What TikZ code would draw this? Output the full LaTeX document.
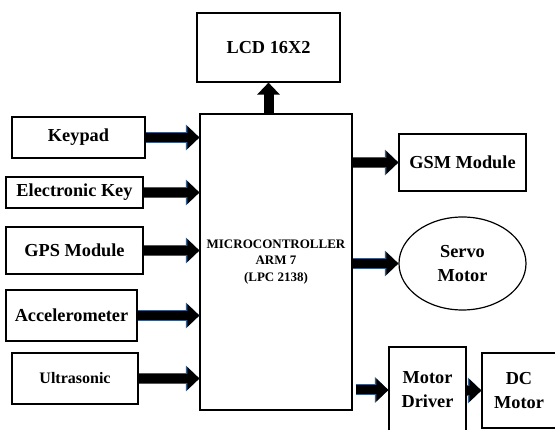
\documentclass[tikz,border=0pt]{standalone}
\usepackage{fontspec}
\setmainfont{Liberation Serif}
\usetikzlibrary{arrows.meta,shapes.geometric,positioning,calc}
\definecolor{arrowblue}{RGB}{56,93,138}
\tikzset{
block/.style={draw, line width=1.2pt, align=center, inner sep=0pt,
  font=\fontsize{18.3}{24}\selectfont\bfseries},
fatarrow/.style={line width=9pt, -{Triangle[length=12pt,width=22pt]},
  preaction={draw=arrowblue, line width=11pt, -{Triangle[length=13.5pt,width=25pt]}}},
}

\begin{document}
\begin{tikzpicture}[x=1pt,y=-1pt]
\useasboundingbox (0,0) rectangle (555,430);
% controller and display
\node[block, minimum width=152pt, minimum height=296pt,
  font=\fontsize{13}{16.5}\selectfont\bfseries] (mcu) at (276,262) {MICROCONTROLLER\\ARM 7\\(LPC 2138)};
\node[block, minimum width=143pt, minimum height=69pt] (lcd) at (268.5,47.5) {LCD 16X2};
% inputs
\node[block, minimum width=133pt, minimum height=41pt] (keypad) at (78.5,137.5) {Keypad};
\node[block, minimum width=137pt, minimum height=31pt] (ekey) at (74.5,192.5) {Electronic Key};
\node[block, minimum width=137pt, minimum height=47pt] (gps) at (74.5,250.5) {GPS Module};
\node[block, minimum width=131pt, minimum height=51pt] (accel) at (71.5,315.5) {Accelerometer};
\node[block, minimum width=126pt, minimum height=51pt,
  font=\fontsize{16}{20}\selectfont\bfseries] (ultra) at (75,378.5) {Ultrasonic};
% outputs
\node[block, minimum width=127pt, minimum height=57pt] (gsm) at (462.5,162.5) {GSM Module};
\node[block, ellipse, minimum width=127pt, minimum height=93pt] (servo) at (462.5,263.5) {Servo\\Motor};
\node[block, minimum width=77pt, minimum height=86pt] (driver) at (427.5,390) {Motor\\Driver};
\node[block, minimum width=74pt, minimum height=75pt] (dc) at (519,390.5) {DC\\Motor};

\foreach \src in {keypad,ekey,gps,accel,ultra}
  \draw[fatarrow] (\src.east) -- (\src.east -| mcu.west);
\draw[fatarrow] (mcu.east |- gsm.west) -- (gsm.west);
\draw[fatarrow] (mcu.east |- servo.west) -- (servo.west);
\draw[fatarrow, shorten <=3pt] (mcu.east |- driver.west) -- (driver.west);
\draw[fatarrow] (driver.east |- dc.west) -- (dc.west);
\draw[line width=10pt, -{Triangle[length=12pt,width=22pt]}] (lcd.south |- mcu.north) -- (lcd.south);
\end{tikzpicture}
\end{document}
